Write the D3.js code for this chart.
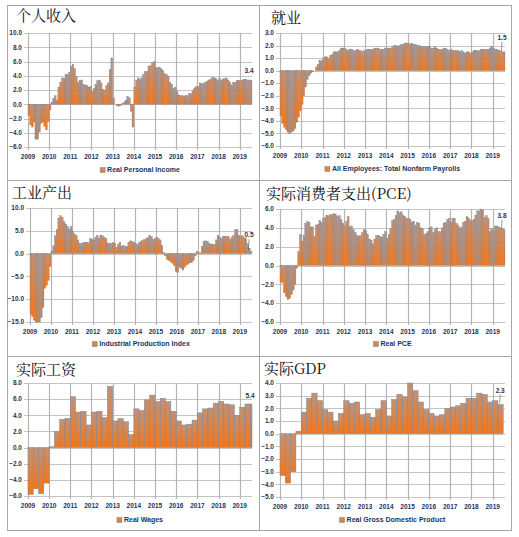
<!DOCTYPE html>
<html>
<head>
<meta charset="utf-8">
<script src="https://cdn.jsdelivr.net/npm/d3@7"></script>
<style>
  body { margin: 0; background: #fff; }
  .tick-text { font-family: "Liberation Sans", Arial, sans-serif; font-weight: bold; font-size: 6.5px; fill: #1c355e; }
  .legend-text { font-family: "Liberation Sans", Arial, sans-serif; font-weight: bold; font-size: 7px; fill: #1c355e; }
  .title { font-family: "Noto Serif CJK SC", "Noto Sans CJK SC", serif; font-size: 15px; fill: #111; }
  .value-label { font-family: "Liberation Sans", Arial, sans-serif; font-weight: bold; font-size: 6.5px; fill: #333; }
</style>
</head>
<body>
<script>
// monthly series, Jan 2009 - Jul 2019
var personalIncome = [
  -1.6, -2.9, -3.2, -2.5, -4.9, -4.9, -3.9, -2.7, -2.5, -3.1, -3.6, -2.4,
  -0.8, 0.3, 0.8, 1.2, 0.6, 2.4, 3.1, 3.7, 3.6, 4.2, 4.2, 4.5,
  5.3, 5.6, 5.0, 3.9, 3.1, 3.3, 3.4, 2.8, 2.7, 2.6, 2.4, 2.5,
  1.8, 2.2, 2.8, 3.3, 3.4, 3.0, 2.1, 2.0, 2.6, 3.0, 4.9, 6.5,
  0.9, 0.0, -0.2, -0.3, -0.2, 0.1, 0.3, 0.6, 1.1, 0.9, -1.0, -3.2,
  2.4, 3.4, 3.7, 3.5, 3.7, 4.2, 4.6, 4.6, 5.3, 5.4, 5.8, 6.0,
  5.0, 5.2, 5.2, 5.0, 4.7, 4.3, 4.2, 3.9, 3.1, 2.8, 2.2, 2.4,
  1.8, 1.3, 1.2, 1.2, 1.1, 1.2, 1.2, 1.5, 1.5, 1.9, 2.3, 2.5,
  2.5, 3.0, 2.9, 2.9, 3.1, 3.2, 3.4, 3.5, 3.8, 3.7, 3.6, 3.4,
  3.6, 3.3, 3.5, 3.6, 3.7, 3.4, 3.1, 2.7, 3.1, 3.1, 3.3, 3.3,
  3.3, 3.4, 3.5, 3.5, 3.4, 3.4, 3.4
];
var nonfarmPayrolls = [
  -3.6, -4.2, -4.5, -4.7, -4.9, -5.0, -4.9, -4.8, -4.6, -4.1, -3.7, -3.2,
  -2.7, -2.0, -1.3, -0.7, -0.4, -0.2, -0.1, 0.0, 0.3, 0.5, 0.8, 0.8,
  1.0, 1.1, 1.1, 1.0, 1.2, 1.3, 1.5, 1.5, 1.5, 1.6, 1.8, 1.8,
  1.8, 1.7, 1.6, 1.7, 1.7, 1.6, 1.6, 1.7, 1.6, 1.6, 1.5, 1.6,
  1.6, 1.7, 1.7, 1.7, 1.7, 1.8, 1.8, 1.8, 1.7, 1.7, 1.7, 1.8,
  1.8, 1.8, 1.8, 1.9, 2.0, 2.0, 1.9, 2.0, 2.1, 2.1, 2.2, 2.2,
  2.2, 2.1, 2.2, 2.1, 2.1, 2.0, 2.0, 1.9, 1.9, 1.9, 1.9, 1.9,
  1.9, 1.8, 1.8, 1.9, 1.8, 1.7, 1.7, 1.7, 1.8, 1.8, 1.7, 1.6,
  1.7, 1.6, 1.6, 1.6, 1.6, 1.5, 1.6, 1.5, 1.4, 1.5, 1.5, 1.4,
  1.5, 1.6, 1.6, 1.6, 1.6, 1.7, 1.7, 1.7, 1.7, 1.7, 1.8, 1.9,
  1.8, 1.7, 1.7, 1.6, 1.6, 1.5, 1.5
];
var industrialProduction = [
  -13.3, -13.8, -14.6, -15.0, -15.0, -15.0, -14.0, -11.8, -7.6, -7.0, -5.9, -2.8,
  0.5, 1.7, 3.9, 5.3, 7.8, 8.3, 8.0, 7.0, 6.5, 6.0, 5.4, 5.9,
  4.8, 4.3, 4.0, 3.0, 2.2, 2.2, 2.4, 2.5, 2.4, 2.4, 3.3, 3.2,
  3.0, 3.6, 4.0, 3.3, 3.9, 3.9, 3.6, 3.3, 2.2, 2.3, 2.2, 2.4,
  2.2, 1.4, 2.0, 2.5, 1.6, 1.8, 1.5, 1.6, 2.4, 2.8, 2.7, 2.4,
  2.2, 2.0, 2.4, 2.6, 2.9, 3.1, 3.3, 3.5, 3.9, 3.7, 3.1, 3.3,
  3.6, 3.3, 3.0, 1.8, 0.3, -0.5, -1.3, -1.5, -1.8, -2.1, -2.6, -3.9,
  -4.2, -3.0, -3.2, -3.6, -3.0, -2.5, -2.3, -2.0, -2.0, -1.5, -0.5, 0.5,
  0.1, 0.2, 1.6, 2.6, 2.8, 2.7, 2.3, 2.1, 2.0, 2.0, 3.0, 4.0,
  3.6, 3.3, 3.8, 3.8, 3.8, 3.8, 3.1, 3.5, 4.0, 5.3, 5.3, 4.0,
  3.8, 3.9, 3.5, 3.3, 2.2, 1.2, 0.5
];
var realPCE = [
  -1.8, -1.8, -2.9, -3.3, -3.6, -3.5, -3.1, -2.6, -2.0, -0.3, 1.5, 3.3,
  2.6, 3.2, 4.5, 4.7, 4.6, 4.1, 4.1, 3.1, 4.3, 4.4, 4.8, 4.6,
  5.0, 5.1, 5.3, 5.3, 5.4, 5.4, 5.5, 5.4, 5.2, 5.3, 4.9, 4.5,
  4.2, 4.7, 5.2, 4.1, 4.2, 3.8, 3.5, 3.2, 3.1, 3.2, 3.5, 3.8,
  3.7, 3.3, 2.8, 2.7, 2.3, 2.8, 3.2, 3.2, 3.1, 3.0, 3.3, 3.6,
  2.9, 3.3, 3.9, 4.8, 4.9, 5.3, 5.8, 5.6, 5.7, 5.3, 5.2, 5.0,
  5.0, 4.9, 4.6, 4.7, 4.3, 4.6, 4.5, 4.0, 3.9, 3.3, 3.4, 3.6,
  4.0, 4.1, 3.5, 3.8, 4.0, 3.6, 3.6, 4.0, 4.5, 4.6, 4.9, 5.0,
  4.6, 5.0, 5.0, 4.5, 4.3, 4.0, 4.1, 4.6, 4.7, 5.2, 5.0, 4.8,
  4.8, 4.9, 5.3, 5.8, 5.8, 6.0, 5.9, 5.1, 5.3, 5.0, 3.6, 3.9,
  3.7, 4.2, 4.2, 4.1, 4.0, 3.9, 3.8
];
// quarterly series, 2009Q1 onward
var realWages = [
  -5.8, -5.1, -5.7, -4.4,
  0.1, 2.0, 3.5, 3.6,
  6.3, 4.4, 4.5, 2.8,
  4.4, 4.5, 3.7, 7.6,
  3.3, 3.6, 3.2, 1.6,
  4.8, 4.6, 5.9, 6.5,
  5.7, 6.1, 5.7, 4.5,
  3.3, 2.8, 2.9, 3.4,
  4.3, 4.8, 4.9, 5.5,
  5.7, 5.4, 5.3, 4.0,
  5.0, 5.4, 5.4
];
var realGDP = [
  -3.3, -3.9, -3.0, 0.2,
  1.7, 2.8, 3.2, 2.6,
  1.9, 1.7, 1.0, 1.6,
  2.6, 2.4, 2.5, 1.5,
  1.6, 1.3, 1.9, 2.6,
  1.4, 2.7, 3.1, 2.9,
  4.0, 3.4, 2.5, 1.9,
  1.6, 1.4, 1.5, 2.0,
  2.1, 2.2, 2.4, 2.8,
  2.8, 3.2, 3.1, 2.5,
  2.6, 2.3
];

var titles = ["个人收入", "就业", "工业产出", "实际消费者支出(PCE)", "实际工资", "实际GDP"];
var legendNames = ["Real Personal Income", "All Employees: Total Nonfarm Payrolls",
  "Industrial Production Index", "Real PCE", "Real Wages", "Real Gross Domestic Product"];
var lastLabels = ["3.4", "1.5", "0.5", "3.8", "5.4", "2.3"];
var yTickValues = [
  [-6, -4, -2, 0, 2, 4, 6, 8, 10],
  [-6, -5, -4, -3, -2, -1, 0, 1, 2, 3],
  [-15, -10, -5, 0, 5, 10],
  [-6, -4, -2, 0, 2, 4, 6],
  [-6, -4, -2, 0, 2, 4, 6, 8],
  [-5, -4, -3, -2, -1, 0, 1, 2, 3, 4]
];
var yearTicks = ["2009", "2010", "2011", "2012", "2013", "2014", "2015", "2016", "2017", "2018", "2019"];

var START = new Date(2009, 0, 1);
var END = new Date(2019, 7, 1);

// layout (pixels), one entry per panel
var layout = [
  {series: personalIncome, freq: "m", left: 28, right: 252, top: 33, bottom: 147, tx: 16, ty: 21, legY: 170, lab: {dx: -3, dy: -7, leader: false}},
  {series: nonfarmPayrolls, freq: "m", left: 280, right: 505, top: 33, bottom: 146, tx: 271, ty: 23, legY: 169, lab: {dx: -3, dy: -12, leader: true}},
  {series: industrialProduction, freq: "m", left: 30, right: 252, top: 208, bottom: 322, tx: 12, ty: 198, legY: 344, lab: {dx: -3, dy: -14, leader: true}},
  {series: realPCE, freq: "m", left: 280, right: 505, top: 209, bottom: 322, tx: 266, ty: 199, legY: 344, lab: {dx: -3, dy: -12, leader: true}},
  {series: realWages, freq: "q", left: 28, right: 252, top: 383, bottom: 496, tx: 16, ty: 375, legY: 520, lab: {dx: -2, dy: -6, leader: false}},
  {series: realGDP, freq: "q", left: 280, right: 505, top: 383, bottom: 497, tx: 264, ty: 374, legY: 520, lab: {dx: -3, dy: -12, leader: true}}
];

var svg = d3.select("body").append("svg")
  .attr("width", 519)
  .attr("height", 537);

svg.append("rect").attr("width", 519).attr("height", 537).attr("fill", "#fff");

var defs = svg.append("defs");
var grad = defs.append("linearGradient")
  .attr("id", "barFill")
  .attr("x1", 0).attr("y1", 0).attr("x2", 0).attr("y2", 1);
grad.append("stop").attr("offset", "0%").attr("stop-color", "#bf9278");
grad.append("stop").attr("offset", "100%").attr("stop-color", "#f3761a");

// panel frame
var frame = svg.append("g").attr("stroke", "#a6a6a6").attr("fill", "none").attr("stroke-width", 1);
frame.append("rect").attr("x", 7.5).attr("y", 5.5).attr("width", 504).attr("height", 525);
frame.append("line").attr("x1", 259.5).attr("x2", 259.5).attr("y1", 5).attr("y2", 531);
frame.append("line").attr("x1", 7).attr("x2", 512).attr("y1", 180.5).attr("y2", 180.5);
frame.append("line").attr("x1", 7).attr("x2", 512).attr("y1", 356.5).attr("y2", 356.5);

layout.forEach(function(p, i) {
  var g = svg.append("g");
  var ticks = yTickValues[i];

  var x = d3.scaleTime()
    .domain([START, END])
    .range([p.left, p.right]);
  var y = d3.scaleLinear()
    .domain([ticks[0], ticks[ticks.length - 1]])
    .range([p.bottom, p.top]);

  var step = p.freq === "m" ? d3.timeMonth : d3.timeMonth.every(3);
  var dates = step.range(START, d3.timeMonth.offset(START, 3 * p.series.length)).slice(0, p.series.length);
  var span = p.freq === "m" ? 1 : 3;
  var data = p.series.map(function(v, k) {
    var d0 = dates[k];
    var d1 = d3.timeMonth.offset(d0, span);
    if (d1 > END) d1 = END;
    return {d0: d0, d1: d1, v: v};
  });

  // gridlines
  g.append("g").selectAll("line")
    .data(ticks)
    .enter()
    .append("line")
    .attr("x1", p.left - 4)
    .attr("x2", p.right)
    .attr("y1", function(d) { return Math.round(y(d)) + 0.5; })
    .attr("y2", function(d) { return Math.round(y(d)) + 0.5; })
    .attr("stroke", "#c4c4c4")
    .attr("stroke-width", 1);

  g.append("g").selectAll("line")
    .data(yearTicks)
    .enter()
    .append("line")
    .attr("x1", function(d) { return Math.round(x(new Date(+d, 0, 1))) + 0.5; })
    .attr("x2", function(d) { return Math.round(x(new Date(+d, 0, 1))) + 0.5; })
    .attr("y1", p.top)
    .attr("y2", p.bottom + 3)
    .attr("stroke", "#b4b4b4")
    .attr("stroke-width", 1.2);

  // bars
  g.append("g").selectAll("rect")
    .data(data)
    .enter()
    .append("rect")
    .attr("x", function(d) { return x(d.d0); })
    .attr("width", function(d) { return Math.max(0, x(d.d1) - x(d.d0)); })
    .attr("y", function(d) { return Math.min(y(0), y(d.v)); })
    .attr("height", function(d) { return Math.abs(y(d.v) - y(0)); })
    .attr("fill", "url(#barFill)")
    .attr("stroke", "#7c8494")
    .attr("stroke-width", p.freq === "m" ? 0.35 : 0.5);

  // y tick labels
  g.append("g").selectAll("text")
    .data(ticks)
    .enter()
    .append("text")
    .classed("tick-text", true)
    .attr("x", p.left - 6)
    .attr("y", function(d) { return y(d); })
    .attr("dy", "0.35em")
    .attr("text-anchor", "end")
    .text(d3.format(".1f"));

  // x tick labels
  g.append("g").selectAll("text")
    .data(yearTicks)
    .enter()
    .append("text")
    .classed("tick-text", true)
    .attr("x", function(d) { return x(new Date(+d, 0, 1)); })
    .attr("y", p.bottom + 12)
    .attr("text-anchor", "middle")
    .text(function(d) { return d; });

  // title
  g.append("text")
    .classed("title", true)
    .attr("x", p.tx)
    .attr("y", p.ty)
    .text(titles[i]);

  // last value label
  var last = data[data.length - 1];
  var lx = x(last.d1) + p.lab.dx;
  var ly = y(last.v) + p.lab.dy;
  if (p.lab.leader) {
    g.append("line")
      .attr("x1", lx).attr("x2", lx - 0.5)
      .attr("y1", ly + 2).attr("y2", y(last.v) - 1)
      .attr("stroke", "#555")
      .attr("stroke-width", 0.6);
  }
  g.append("text")
    .classed("value-label", true)
    .attr("x", lx)
    .attr("y", ly)
    .attr("text-anchor", "middle")
    .text(lastLabels[i]);

  // legend
  var leg = g.append("g");
  var legText = leg.append("text")
    .classed("legend-text", true)
    .attr("x", 7)
    .attr("y", 0)
    .attr("dy", "0.35em")
    .text(legendNames[i]);
  leg.append("rect")
    .attr("x", 0).attr("y", -2.5)
    .attr("width", 5).attr("height", 5)
    .attr("fill", "url(#barFill)")
    .attr("stroke", "#7c8494")
    .attr("stroke-width", 0.5);
  var w = 7 + legText.node().getComputedTextLength();
  leg.attr("transform", "translate(" + ((p.left + p.right) / 2 - w / 2) + "," + p.legY + ")");
});
</script>
</body>
</html>
